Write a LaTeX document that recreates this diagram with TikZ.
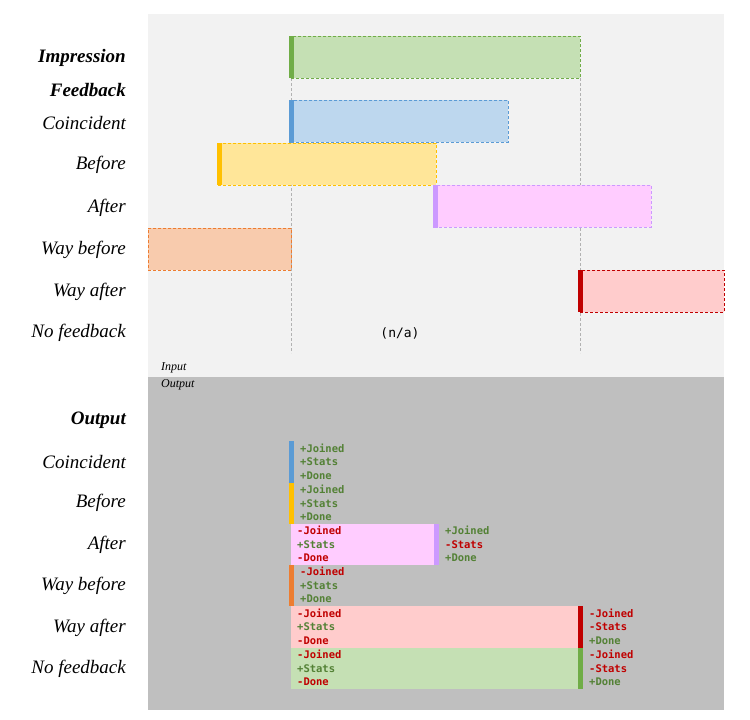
\documentclass[tikz,border=0pt]{standalone}
\usepackage{fontspec}
\setmonofont{DejaVu Sans Mono}
\newfontfamily\labfont{Liberation Serif}
\definecolor{topbg}{HTML}{F2F2F2}
\definecolor{botbg}{HTML}{BFBFBF}
\definecolor{gfill}{HTML}{C5E0B4}\definecolor{gline}{HTML}{70AD47}
\definecolor{bfill}{HTML}{BDD7EE}\definecolor{bline}{HTML}{5B9BD5}
\definecolor{yfill}{HTML}{FFE699}\definecolor{yline}{HTML}{FFC000}
\definecolor{pfill}{HTML}{FFCCFF}\definecolor{pline}{HTML}{CC99FF}
\definecolor{ofill}{HTML}{F8CBAD}\definecolor{oline}{HTML}{ED7D31}
\definecolor{rfill}{HTML}{FFCCCC}\definecolor{rline}{HTML}{C00000}
\definecolor{gtext}{HTML}{538135}\definecolor{rtext}{HTML}{C00000}
\newcommand{\G}[1]{\textcolor{gtext}{#1}}
\newcommand{\R}[1]{\textcolor{rtext}{#1}}
\begin{document}
\begin{tikzpicture}[x=1pt,y=-1pt,
  bar/.style={rectangle, anchor=north west, inner sep=0pt, line width=0.8pt, dash pattern=on 3pt off 2pt, minimum height=42pt},
  sbar/.style={rectangle, anchor=north west, inner sep=0pt, draw=none, minimum height=41.5pt},
  stripe/.style={rectangle, anchor=north west, inner sep=0pt, minimum width=5pt},
  lab/.style={anchor=east, inner sep=0pt, font=\labfont\fontsize{19}{22}\selectfont\itshape},
  blab/.style={lab, font=\labfont\fontsize{19}{22}\selectfont\itshape\bfseries},
  mono/.style={anchor=base west, inner sep=0pt, align=left, font=\fontsize{10.5}{13.5}\selectfont\ttfamily\bfseries},
  small/.style={anchor=west, inner sep=0pt, font=\labfont\fontsize{12}{14}\selectfont\itshape},
  vline/.style={draw=black!30, line width=0.8pt, dash pattern=on 3pt off 2pt}]
\useasboundingbox (0,0) rectangle (750,720);
\fill[topbg] (148,14) rectangle (724,377);
\fill[botbg] (148,377) rectangle (724,710);
% guide lines
\coordinate (l1) at (291,78); \coordinate (l2) at (291,353);
\coordinate (r1) at (580,78); \coordinate (r2) at (580,353);
\draw[vline] (l1) -- (l2);
\draw[vline] (r1) -- (r2);
% top bars
\node[bar, fill=gfill, draw=gline, minimum width=289pt] (imp) at (291,36) {};
\node[stripe, fill=gline, minimum height=42pt] (imps) at (289,36) {};
\node[bar, fill=bfill, draw=bline, minimum width=217pt] (coi) at (291,100) {};
\node[stripe, fill=bline, minimum height=43pt] (cois) at (289,100) {};
\node[bar, fill=yfill, draw=yline, minimum width=218pt] (bef) at (218,143) {};
\node[stripe, fill=yline, minimum height=42pt] (befs) at (217,143) {};
\node[bar, fill=pfill, draw=pline, minimum width=217pt] (aft) at (434,185) {};
\node[stripe, fill=pline, minimum height=43pt] (afts) at (433,185) {};
\node[bar, fill=ofill, draw=oline, minimum width=143pt] (wbf) at (148,228) {};
\node[bar, fill=rfill, draw=rline, minimum width=144pt] (waf) at (580,270) {};
\node[stripe, fill=rline, minimum height=42pt] (wafs) at (578,270) {};
\node[inner sep=0pt, font=\fontsize{13}{15}\selectfont\ttfamily] (na) at (400,333) {(n/a)};
% top labels
\node[blab] (hImp) at (126,58) {Impression};
\node[blab] (hFb) at (126,90) {Feedback};
\node[lab] (iCoi) at (126,123) {Coincident};
\node[lab] (iBef) at (126,165) {Before};
\node[lab] (iAft) at (126,208) {After};
\node[lab] (iWbf) at (126,250) {Way before};
\node[lab] (iWaf) at (126,292) {Way after};
\node[lab] (iNo) at (126,333) {No feedback};
\node[small] (inp) at (161,368) {Input};
\node[small] (outp) at (161,385) {Output};
% bottom labels
\node[blab] (hOut) at (126,420) {Output};
\node[lab] (oCoi) at (126,462) {Coincident};
\node[lab] (oBef) at (126,503) {Before};
\node[lab] (oAft) at (126,545) {After};
\node[lab] (oWbf) at (126,586) {Way before};
\node[lab] (oWaf) at (126,628) {Way after};
\node[lab] (oNo) at (126,669) {No feedback};
% bottom rows (base anchor = baseline of the last line)
\node[stripe, fill=bline, minimum height=41.5pt] (s1) at (289,441) {};
\node[mono] (t1) at (300,479) {\G{+Joined}\\\G{+Stats}\\\G{+Done}};
\node[stripe, fill=yline, minimum height=41.5pt] (s2) at (289,482.5) {};
\node[mono] (t2) at (300,520.5) {\G{+Joined}\\\G{+Stats}\\\G{+Done}};
\node[sbar, fill=pfill, minimum width=145pt] (b3) at (291,523.5) {};
\node[stripe, fill=pline, minimum height=41.5pt] (s3) at (434,523.5) {};
\node[mono] (t3) at (297,561.5) {\R{-Joined}\\\G{+Stats}\\\R{-Done}};
\node[mono] (u3) at (445,561.5) {\G{+Joined}\\\R{-Stats}\\\G{+Done}};
\node[stripe, fill=oline, minimum height=41.5pt] (s4) at (289,564.5) {};
\node[mono] (t4) at (300,602.5) {\R{-Joined}\\\G{+Stats}\\\G{+Done}};
\node[sbar, fill=rfill, minimum width=289pt] (b5) at (291,606) {};
\node[stripe, fill=rline, minimum height=41.5pt] (s5) at (578,606) {};
\node[mono] (t5) at (297,644) {\R{-Joined}\\\G{+Stats}\\\R{-Done}};
\node[mono] (u5) at (589,644) {\R{-Joined}\\\R{-Stats}\\\G{+Done}};
\node[sbar, fill=gfill, minimum width=289pt] (b6) at (291,647.5) {};
\node[stripe, fill=gline, minimum height=41.5pt] (s6) at (578,647.5) {};
\node[mono] (t6) at (297,685.5) {\R{-Joined}\\\G{+Stats}\\\R{-Done}};
\node[mono] (u6) at (589,685.5) {\R{-Joined}\\\R{-Stats}\\\G{+Done}};
\end{tikzpicture}
\end{document}
